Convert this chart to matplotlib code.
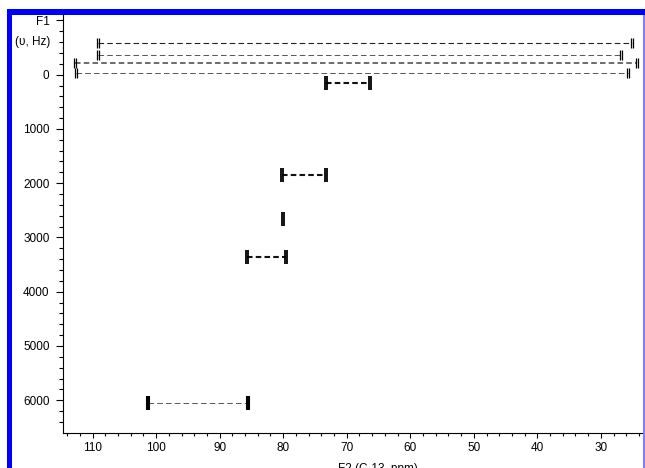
import numpy as np
import matplotlib
matplotlib.use("Agg")
import matplotlib.pyplot as plt
from matplotlib.path import Path
from matplotlib.patches import Rectangle
from matplotlib.ticker import MultipleLocator, FixedLocator

plt.rcParams['font.family'] = ['Liberation Sans', 'DejaVu Sans']
plt.rcParams['lines.scale_dashes'] = False

# INADEQUATE-style cross peaks: F1 (Hz), left / right F2 (ppm)
f1_hz = [-575, -363, -221, -40, 147, 1849, 3355, 6046]
f2_left = [109.1, 109.1, 112.8, 112.6, 73.3, 80.2, 85.65, 101.2]
f2_right = [25.1, 26.8, 24.3, 25.8, 66.4, 73.3, 79.55, 85.5]

# lone peak without partner
single_hz = [2666]
single_ppm = [80.0]

y_ticks = [-1000, 0, 1000, 2000, 3000, 4000, 5000, 6000]
y_ticklabels = ['F1', '0', '1000', '2000', '3000', '4000', '5000', '6000']
x_ticks = [110, 100, 90, 80, 70, 60, 50, 40, 30]

# line style per row (width, colour) and peak height
row_lw = [0.8, 0.7, 1.1, 0.7, 1.5, 1.5, 1.5, 0.7]
row_col = ['#222222', '#555555', '#444444', '#555555', '#111111', '#111111', '#111111', '#555555']
row_ms = [6.5, 6.5, 6.5, 6.5, 9.5, 9.5, 9.5, 10.5]
row_mew = [0.9, 0.9, 0.9, 0.9, 1.3, 1.3, 1.3, 1.5]

# double bar marker
bar = Path([(-0.16, -1), (-0.16, 1), (0.16, -1), (0.16, 1)],
           [Path.MOVETO, Path.LINETO, Path.MOVETO, Path.LINETO])

W, H = 645, 468
fig = plt.figure(figsize=(W / 100, H / 100), dpi=100)
x0, x1 = 62.7, 693
y0, y1 = 15, 432.5
ax = fig.add_axes([x0 / W, 1 - y1 / H, (x1 - x0) / W, (y1 - y0) / H])

for i in range(len(f1_hz)):
    ax.plot([f2_left[i], f2_right[i]], [f1_hz[i], f1_hz[i]], color=row_col[i],
            lw=row_lw[i], dashes=(4, 2.3), zorder=2)
    ax.plot([f2_left[i], f2_right[i]], [f1_hz[i], f1_hz[i]], ls='none',
            marker=bar, ms=row_ms[i], mec='black', mew=row_mew[i], zorder=3)
ax.plot(single_ppm, single_hz, ls='none', marker=bar, ms=9.5, mec='black', mew=1.3)

ax.set_xlim(114.7, 15.5)
ax.set_ylim(6595, -1100)

ax.xaxis.set_major_locator(FixedLocator(x_ticks))
ax.xaxis.set_minor_locator(MultipleLocator(2))
ax.yaxis.set_major_locator(FixedLocator(y_ticks))
ax.set_yticklabels(y_ticklabels)
ax.yaxis.set_minor_locator(MultipleLocator(200))

ax.tick_params(axis='both', which='major', labelsize=8.5, width=0.8, direction='out')
ax.tick_params(axis='y', which='major', length=5, pad=4.5)
ax.tick_params(axis='y', which='minor', length=3, width=0.8)
ax.tick_params(axis='x', which='major', length=3.5, pad=3)
ax.tick_params(axis='x', which='minor', length=2.2, width=0.8)

for s in ['top', 'right']:
    ax.spines[s].set_visible(False)
for s in ['left', 'bottom']:
    ax.spines[s].set_linewidth(0.8)

ax.set_xlabel('F2 (C-13, ppm)', fontsize=8.5, labelpad=7)

fig.text(50 / W, 1 - 41.7 / H, '(\u03c5, Hz)', fontsize=8.5, ha='right', va='center')

# blue window frame
fig.add_artist(Rectangle((7 / W, 0), 5 / W, 1 - 9 / H, transform=fig.transFigure,
                         color='#0000ff', lw=0, zorder=10))
fig.add_artist(Rectangle((7 / W, 1 - 15 / H), 1 - 7 / W, 6 / H, transform=fig.transFigure,
                         color='#0000ff', lw=0, zorder=10))
fig.add_artist(Rectangle((643 / W, 0), 2 / W, 1 - 15 / H, transform=fig.transFigure,
                         color='#8080ff', lw=0, zorder=10))

fig.savefig('out.png', dpi=100)
